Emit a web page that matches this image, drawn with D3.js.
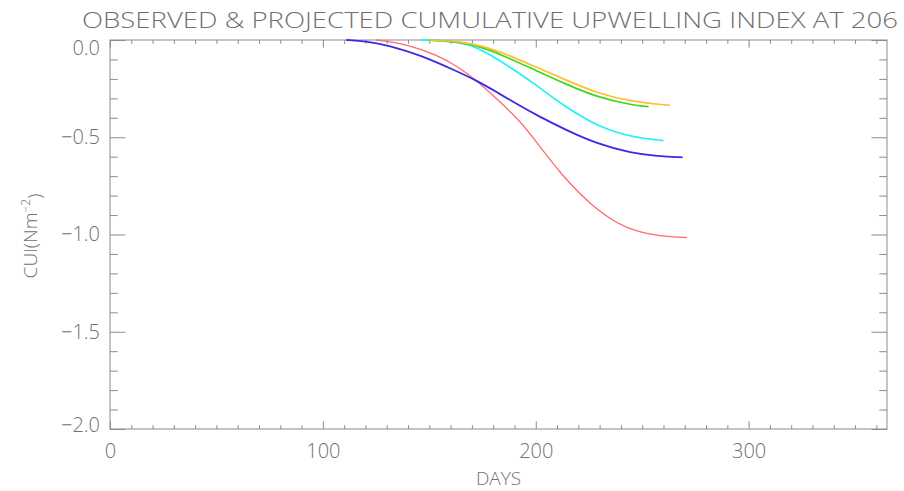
<!DOCTYPE html>
<html>
<head>
<meta charset="utf-8">
<script src="https://cdn.jsdelivr.net/npm/d3@7"></script>
<style>
  body { margin: 0; background: #ffffff; }
  svg { display: block; }
  text { font-family: "Open Sans", "DejaVu Sans", sans-serif; font-weight: 300; fill: #707070; }
</style>
</head>
<body>
<div id="chart"></div>
<script>
// Data — cumulative upwelling index (N m^-2) against day of year, one curve per run
const redDays    = [125, 139, 154, 164, 172, 182, 192, 198, 212, 228, 243, 259, 271];
const redCui     = [0, -0.019, -0.079, -0.14, -0.207, -0.305, -0.41, -0.49, -0.695, -0.872, -0.976, -1.01, -1.016];

const blueDays   = [111, 120, 131, 146, 162, 172, 182, 192, 201, 214, 229, 245, 257, 269];
const blueCui    = [0, -0.006, -0.027, -0.079, -0.156, -0.207, -0.27, -0.335, -0.39, -0.462, -0.535, -0.582, -0.597, -0.603];

const cyanDays   = [146, 158, 165, 170, 176, 182, 190, 198, 206, 214, 229, 245, 260];
const cyanCui    = [0, -0.006, -0.015, -0.03, -0.06, -0.098, -0.155, -0.214, -0.28, -0.343, -0.445, -0.50, -0.517];

const greenDays  = [150, 165, 176, 183, 198, 214, 229, 245, 253];
const greenCui   = [0, -0.01, -0.042, -0.072, -0.146, -0.226, -0.295, -0.334, -0.343];

const orangeDays = [150, 165, 176, 183, 198, 214, 229, 245, 263];
const orangeCui  = [0, -0.008, -0.034, -0.06, -0.128, -0.205, -0.274, -0.317, -0.336];

const xMajorTicks = [0, 100, 200, 300];
const yMajorTicks = [0, -0.5, -1.0, -1.5, -2.0];

const titleText = "OBSERVED & PROJECTED CUMULATIVE UPWELLING INDEX AT 206";

// Step 1 — size + scales
const width = 904, height = 491;
const plotLeft = 110, plotRight = 887, plotTop = 40, plotBottom = 429;

const xScale = d3.scaleLinear().domain([0, 365]).range([plotLeft, plotRight]);
const yScale = d3.scaleLinear().domain([-2, 0]).range([plotBottom, plotTop]);

// IDL-style tick lengths: 2% of the perpendicular plot size
const xTickLen = 0.02 * (plotBottom - plotTop);
const yTickLen = 0.02 * (plotRight - plotLeft);

const xMinorTicks = d3.range(0, 366, 10).filter(d => !xMajorTicks.includes(d));
const yMinorTicks = d3.range(-20, 1).map(d => d / 10).filter(d => !yMajorTicks.some(m => Math.abs(m - d) < 1e-9));

const svg = d3.select("#chart").append("svg")
  .attr("width", width)
  .attr("height", height);

// Step 2 — axes (ticks all point inward, box drawn separately)
const axisColor = "#8c8c8c";
const fmtY = d3.format(".1f");

function styleAxis(g) {
  g.select(".domain").remove();
  g.selectAll("line").attr("stroke", axisColor);
  g.selectAll("text").style("font-size", "20px").attr("fill", "#707070");
}

// bottom
svg.append("g")
  .attr("transform", `translate(0,${plotBottom})`)
  .call(d3.axisBottom(xScale).tickValues(xMajorTicks).tickSizeInner(-xTickLen).tickSizeOuter(0)
    .tickPadding(15).tickFormat(d3.format("d")))
  .call(styleAxis);
svg.append("g")
  .attr("transform", `translate(0,${plotBottom})`)
  .call(d3.axisBottom(xScale).tickValues(xMinorTicks).tickSizeInner(-xTickLen / 2).tickSizeOuter(0).tickFormat(""))
  .call(styleAxis);

// top
svg.append("g")
  .attr("transform", `translate(0,${plotTop})`)
  .call(d3.axisTop(xScale).tickValues(xMajorTicks).tickSizeInner(-xTickLen).tickSizeOuter(0).tickFormat(""))
  .call(styleAxis);
svg.append("g")
  .attr("transform", `translate(0,${plotTop})`)
  .call(d3.axisTop(xScale).tickValues(xMinorTicks).tickSizeInner(-xTickLen / 2).tickSizeOuter(0).tickFormat(""))
  .call(styleAxis);

// left
svg.append("g")
  .attr("transform", `translate(${plotLeft},0)`)
  .call(d3.axisLeft(yScale).tickValues(yMajorTicks).tickSizeInner(-yTickLen).tickSizeOuter(0)
    .tickPadding(10).tickFormat(d => fmtY(d)))
  .call(styleAxis)
  .call(g => g.selectAll("text")
    .attr("dy", d => d === 0 ? "0.74em" : d === -2 ? "0.12em" : "0.32em"));
svg.append("g")
  .attr("transform", `translate(${plotLeft},0)`)
  .call(d3.axisLeft(yScale).tickValues(yMinorTicks).tickSizeInner(-yTickLen / 2).tickSizeOuter(0).tickFormat(""))
  .call(styleAxis);

// right
svg.append("g")
  .attr("transform", `translate(${plotRight},0)`)
  .call(d3.axisRight(yScale).tickValues(yMajorTicks).tickSizeInner(-yTickLen).tickSizeOuter(0).tickFormat(""))
  .call(styleAxis);
svg.append("g")
  .attr("transform", `translate(${plotRight},0)`)
  .call(d3.axisRight(yScale).tickValues(yMinorTicks).tickSizeInner(-yTickLen / 2).tickSizeOuter(0).tickFormat(""))
  .call(styleAxis);

// plot box
svg.append("rect")
  .attr("x", plotLeft)
  .attr("y", plotTop)
  .attr("width", plotRight - plotLeft)
  .attr("height", plotBottom - plotTop)
  .attr("fill", "none")
  .attr("stroke", axisColor)
  .attr("stroke-width", 1);

// Step 3 — curves
const series = [
  { days: redDays,    cui: redCui,    color: "#ff6a6a", w: 1.3 },
  { days: blueDays,   cui: blueCui,   color: "#3a2ae6", w: 1.8 },
  { days: cyanDays,   cui: cyanCui,   color: "#1ff0ff", w: 1.7 },
  { days: greenDays,  cui: greenCui,  color: "#3cd81a", w: 1.7 },
  { days: orangeDays, cui: orangeCui, color: "#ffbf2e", w: 1.7 }
];

// basis spline keeps the hand-read points from showing corners
const lineGen = d3.line()
  .x(d => xScale(d[0]))
  .y(d => yScale(d[1]))
  .curve(d3.curveBasis);

svg.append("g")
  .selectAll("path")
  .data(series)
  .join("path")
    .attr("d", s => lineGen(s.days.map((d, i) => [d, s.cui[i]])))
    .attr("fill", "none")
    .attr("stroke", s => s.color)
    .attr("stroke-width", s => s.w);

// Step 4 — titles
svg.append("text")
  .attr("x", 82)
  .attr("y", 28)
  .attr("textLength", 816)
  .attr("lengthAdjust", "spacingAndGlyphs")
  .style("font-size", "22px")
  .text(titleText);

svg.append("text")
  .attr("x", (plotLeft + plotRight) / 2)
  .attr("y", 485)
  .attr("text-anchor", "middle")
  .style("font-size", "19px")
  .text("DAYS");

const yLabel = svg.append("text")
  .attr("transform", `translate(37,236) rotate(-90)`)
  .attr("text-anchor", "middle")
  .style("font-size", "19px");
yLabel.append("tspan").text("CUI(Nm");
yLabel.append("tspan").attr("dy", "-0.55em").style("font-size", "12px").text("\u22122");
yLabel.append("tspan").attr("dy", "0.55em").text(")");
</script>
</body>
</html>
